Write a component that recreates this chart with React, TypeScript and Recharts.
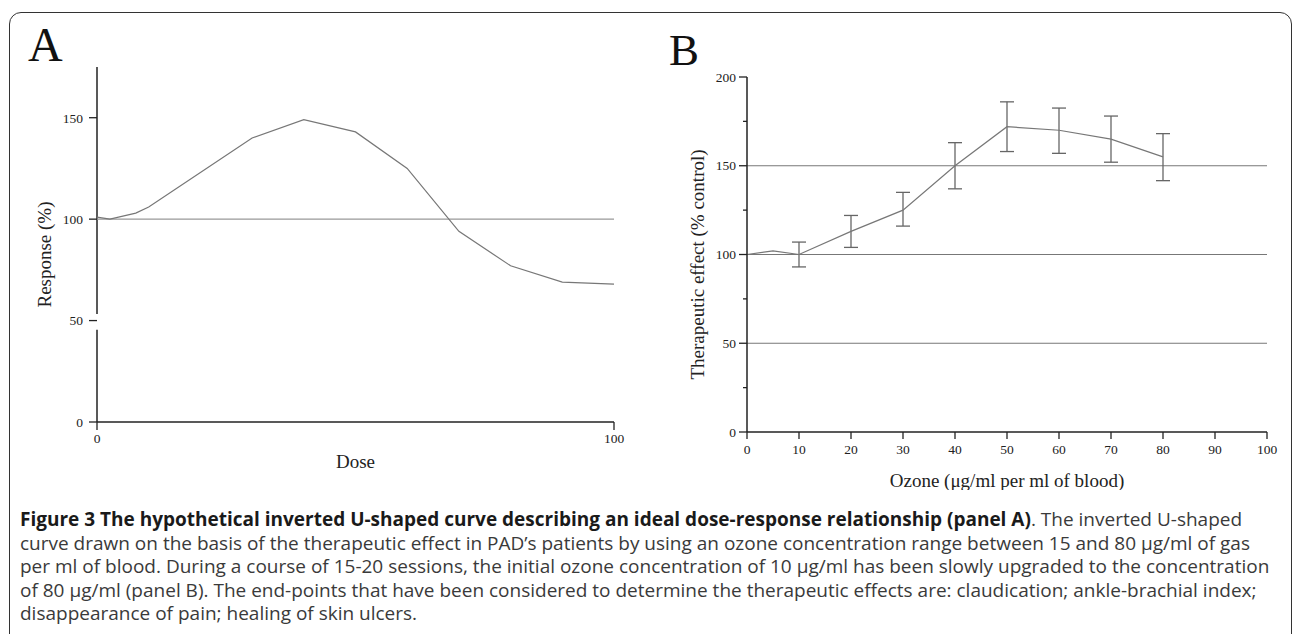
import React from 'react'
import {
  ErrorBar,
  Label,
  Line,
  LineChart,
  ReferenceLine,
  XAxis,
  YAxis,
} from 'recharts'

// panel A: hypothetical dose-response curve
const doseX = [0, 2.5, 7.5, 10, 20, 30, 40, 50, 60, 70, 80, 90, 100]
const responseY = [101, 100, 103, 106, 123, 140, 149, 143, 125, 94, 77, 69, 68]
const doseTicks = [0, 100]
const responseTicks = [0, 50, 100, 150]

// panel B: therapeutic effect vs ozone concentration
const ozoneX = [0, 5, 10, 20, 30, 40, 50, 60, 70, 80]
const effectY = [100, 102, 100, 113, 125, 150, 172, 170, 165, 155]
const errLow = [null, null, 7, 9, 9, 13, 14, 13, 13, 13.4]
const errHigh = [null, null, 7, 9, 10, 13, 14, 12.5, 13, 13.1]
const ozoneTicks = [0, 10, 20, 30, 40, 50, 60, 70, 80, 90, 100]
const effectTicks = [0, 25, 50, 75, 100, 125, 150, 175, 200]
const effectGrid = [50, 100, 150]

const doseRows = doseX.map((x, i) => ({ x, y: responseY[i] }))
const ozoneRows = ozoneX.map((x, i) => ({
  x,
  y: effectY[i],
  err: errLow[i] == null ? null : [errLow[i], errHigh[i]],
}))

const serif = '"Liberation Serif", "Times New Roman", serif'
const tickStyle = { fill: '#222', fontSize: 13.5, fontFamily: serif }
const axisStroke = { stroke: '#222', strokeWidth: 1.5 }
const tickStroke = { stroke: '#222', strokeWidth: 1.3 }

function XTitle({ viewBox, value, dy }: any) {
  const cx = viewBox.x + viewBox.width / 2
  const cy = viewBox.y + dy
  return (
    <text x={cx} y={cy} textAnchor="middle" dominantBaseline="central"
      style={{ fontFamily: serif, fontSize: 19, fill: '#222' }}>
      {value}
    </text>
  )
}

function YTitle({ viewBox, value, dx, dy }: any) {
  const cx = viewBox.x + dx
  const cy = viewBox.y + viewBox.height / 2 + dy
  return (
    <text x={cx} y={cy} textAnchor="middle" dominantBaseline="central"
      transform={`rotate(-90 ${cx} ${cy})`}
      style={{ fontFamily: serif, fontSize: 19, fill: '#222' }}>
      {value}
    </text>
  )
}

function EffectTick({ x, y, payload }: any) {
  const v = payload.value
  const major = v % 50 === 0
  const ax = x + 11
  return (
    <g>
      <line x1={ax - (major ? 8 : 4)} x2={ax} y1={y} y2={y} stroke="#222" strokeWidth={1.3} />
      {major && (
        <text x={x} y={y} dy={4.5} textAnchor="end" style={tickStyle}>
          {v}
        </text>
      )}
    </g>
  )
}

function PanelA() {
  return (
    <LineChart width={640} height={480} data={doseRows}
      margin={{ top: 67, right: 26, bottom: 8, left: 37 }}>
      <XAxis dataKey="x" type="number" domain={[0, 100]} ticks={doseTicks}
        tick={tickStyle} tickSize={8} tickMargin={3}
        axisLine={axisStroke} tickLine={tickStroke} height={50}>
        <Label content={(p: any) => <XTitle viewBox={p.viewBox} value="Dose" dy={39} />} />
      </XAxis>
      <YAxis type="number" domain={[0, 175]} ticks={responseTicks}
        tick={tickStyle} tickSize={8} tickMargin={6}
        axisLine={false} tickLine={tickStroke} width={60}>
        <Label content={(p: any) => <YTitle viewBox={p.viewBox} value="Response (%)" dx={7} dy={10} />} />
      </YAxis>
      {/* y axis drawn in two pieces to leave the break near 50 */}
      <ReferenceLine segment={[{ x: 0, y: 0 }, { x: 0, y: 45.5 }]} stroke="#222" strokeWidth={1.5} />
      <ReferenceLine segment={[{ x: 0, y: 53.2 }, { x: 0, y: 175 }]} stroke="#222" strokeWidth={1.5} />
      <ReferenceLine y={100} stroke="#999" strokeWidth={1.2} />
      <Line type="linear" dataKey="y" stroke="#777" strokeWidth={1.2} dot={false}
        isAnimationActive={false} />
    </LineChart>
  )
}

function PanelB() {
  return (
    <LineChart width={660} height={490} data={ozoneRows}
      margin={{ top: 77, right: 33, bottom: 8, left: 47 }}>
      <XAxis dataKey="x" type="number" domain={[0, 100]} ticks={ozoneTicks}
        tick={tickStyle} tickSize={7} tickMargin={5}
        axisLine={axisStroke} tickLine={tickStroke} height={50}>
        <Label content={(p: any) => <XTitle viewBox={p.viewBox} value="Ozone (μg/ml per ml of blood)" dy={48} />} />
      </XAxis>
      <YAxis type="number" domain={[0, 200]} ticks={effectTicks}
        tick={<EffectTick />} tickSize={8} tickMargin={3}
        axisLine={axisStroke} tickLine={false} width={60}>
        <Label content={(p: any) => <YTitle viewBox={p.viewBox} value="Therapeutic effect (% control)" dx={10} dy={10} />} />
      </YAxis>
      {effectGrid.map((g) => (
        <ReferenceLine key={g} y={g} stroke="#777" strokeWidth={1.2} />
      ))}
      <Line type="linear" dataKey="y" stroke="#777" strokeWidth={1.2} dot={false}
        isAnimationActive={false}>
        <ErrorBar dataKey="err" width={7} stroke="#666" strokeWidth={1.3}
          direction="y" isAnimationActive={false} />
      </Line>
    </LineChart>
  )
}

const captionLines = [
  [
    'Figure 3 The hypothetical inverted U-shaped curve describing an ideal dose-response relationship (panel A)',
    '. The inverted U-shaped',
  ],
  ['', 'curve drawn on the basis of the therapeutic effect in PAD’s patients by using an ozone concentration range between 15 and 80 μg/ml of gas'],
  ['', 'per ml of blood. During a course of 15-20 sessions, the initial ozone concentration of 10 μg/ml has been slowly upgraded to the concentration'],
  ['', 'of 80 μg/ml (panel B). The end-points that have been considered to determine the therapeutic effects are: claudication; ankle-brachial index;'],
  ['', 'disappearance of pain; healing of skin ulcers.'],
]

export default function App() {
  return (
    <div style={{ position: 'absolute', left: 0, top: 0, width: 1293, height: 634, overflow: 'hidden', background: '#fff' }}>
      <div style={{ position: 'absolute', left: 9, top: 12, width: 1281, height: 700, border: '1.5px solid #333', borderRadius: 12 }} />
      <div style={{ position: 'absolute', left: 0, top: 0 }}>
        <PanelA />
      </div>
      <div style={{ position: 'absolute', left: 640, top: 0 }}>
        <PanelB />
      </div>
      <svg width={1293} height={80} style={{ position: 'absolute', left: 0, top: 0 }}>
        <text x={28} y={61} style={{ fontFamily: serif, fontSize: 48, fill: '#111' }}>A</text>
        <text x={669} y={65} style={{ fontFamily: serif, fontSize: 45, fill: '#111' }}>B</text>
      </svg>
      <div style={{ position: 'absolute', left: 20, top: 508, width: 1268, fontFamily: '"Open Sans", Lato, sans-serif', fontSize: 19, lineHeight: '23.5px', color: '#3a3a3a' }}>
        {captionLines.map(([b, n], i) => (
          <div key={i} style={{ whiteSpace: 'nowrap' }}>
            {b && <span style={{ fontWeight: 700, color: '#1a1a1a' }}>{b}</span>}
            {n}
          </div>
        ))}
      </div>
    </div>
  )
}
